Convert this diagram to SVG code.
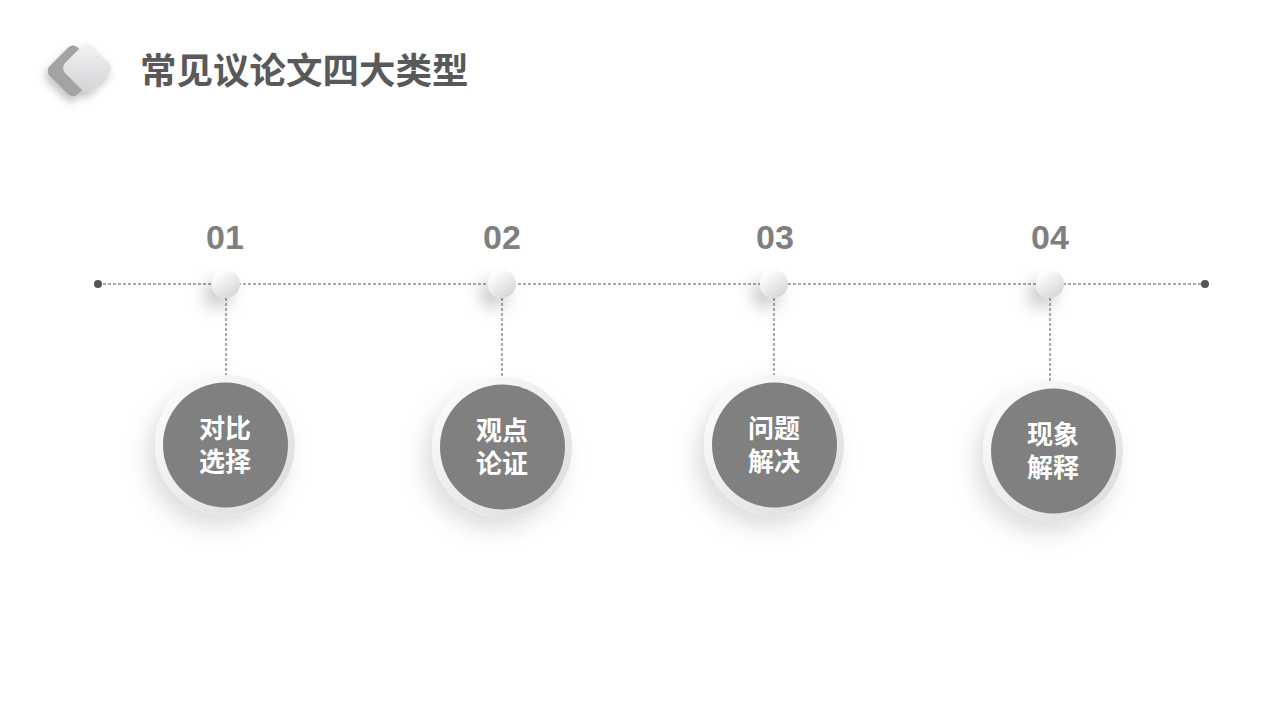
<svg xmlns="http://www.w3.org/2000/svg" width="1280" height="720" viewBox="0 0 1280 720">
<defs>
<linearGradient id="gSmall" x1="0.2" y1="0.1" x2="0.8" y2="0.95">
<stop offset="0" stop-color="#ffffff"/>
<stop offset="1" stop-color="#d6d6d6"/>
</linearGradient>
<linearGradient id="gRing" x1="0.1" y1="0.1" x2="0.9" y2="0.9">
<stop offset="0" stop-color="#fbfbfb"/>
<stop offset="1" stop-color="#dedede"/>
</linearGradient>
<linearGradient id="gFront" x1="0" y1="0" x2="1" y2="1">
<stop offset="0" stop-color="#f4f4f6"/>
<stop offset="1" stop-color="#d2d2d6"/>
</linearGradient>
<filter id="shSmall" x="-150%" y="-150%" width="400%" height="400%">
<feDropShadow dx="-8" dy="10" stdDeviation="8" flood-color="#000" flood-opacity="0.2"/>
</filter>
<filter id="shBig" x="-50%" y="-50%" width="200%" height="200%">
<feDropShadow dx="-8" dy="12" stdDeviation="11" flood-color="#000" flood-opacity="0.13"/>
</filter>
<filter id="shIcon" x="-50%" y="-50%" width="200%" height="200%">
<feDropShadow dx="-2" dy="5" stdDeviation="4" flood-color="#000" flood-opacity="0.25"/>
</filter>
</defs>
<style>
.num{font-family:"Liberation Sans",Arial,sans-serif;font-weight:bold;font-size:34px;fill:#7f7f7f;text-anchor:middle}
.lbl{font-family:"Noto Sans CJK SC","Noto Sans",sans-serif;font-weight:bold;font-size:26px;fill:#ffffff;text-anchor:middle}
.title{font-family:"Noto Sans CJK SC","Noto Sans",sans-serif;font-weight:bold;font-size:36.5px;fill:#595959}
.dash{stroke:#555;stroke-width:1;stroke-dasharray:3 2;fill:none}
.ring{fill:url(#gRing);filter:url(#shBig)}
.disc{fill:#808080}
.knob{fill:url(#gSmall);filter:url(#shSmall)}
</style>
<rect width="1280" height="720" fill="#ffffff"/>
<g id="title-icon" filter="url(#shIcon)">
<rect x="-20" y="-20" width="40" height="40" rx="7" fill="#a3a3a3" transform="translate(73 71) rotate(45)"/>
<rect x="-19" y="-19" width="38" height="38" rx="7" fill="url(#gFront)" transform="translate(87 68) rotate(45)"/>
</g>
<text id="title" class="title" x="140" y="84">常见议论文四大类型</text>
<g id="connectors">
<line class="dash" x1="98" y1="284" x2="1205" y2="284"/>
<circle cx="98" cy="284" r="4" fill="#555"/>
<circle cx="1205" cy="284" r="4" fill="#555"/>
<line class="dash" x1="226" y1="298" x2="226" y2="375"/>
<line class="dash" x1="502" y1="298" x2="502" y2="377"/>
<line class="dash" x1="774" y1="298" x2="774" y2="375"/>
<line class="dash" x1="1050" y1="298" x2="1050" y2="381"/>
</g>
<g id="node1">
<text class="num" x="225" y="249">01</text>
<circle class="knob" cx="226" cy="284" r="14"/>
<circle class="ring" cx="225" cy="445" r="70"/>
<circle class="disc" cx="225.5" cy="445" r="62.5"/>
<text class="lbl" x="225" y="438"><tspan x="225">对比</tspan><tspan x="225" dy="33">选择</tspan></text>
</g>
<g id="node2">
<text class="num" x="502" y="249">02</text>
<circle class="knob" cx="502" cy="284" r="14"/>
<circle class="ring" cx="502" cy="447" r="70"/>
<circle class="disc" cx="502.5" cy="447" r="62.5"/>
<text class="lbl" x="502" y="440"><tspan x="502">观点</tspan><tspan x="502" dy="33">论证</tspan></text>
</g>
<g id="node3">
<text class="num" x="775" y="249">03</text>
<circle class="knob" cx="774" cy="284" r="14"/>
<circle class="ring" cx="774" cy="445" r="70"/>
<circle class="disc" cx="774.5" cy="445" r="62.5"/>
<text class="lbl" x="774" y="438"><tspan x="774">问题</tspan><tspan x="774" dy="33">解决</tspan></text>
</g>
<g id="node4">
<text class="num" x="1050" y="249">04</text>
<circle class="knob" cx="1050" cy="284" r="14"/>
<circle class="ring" cx="1053" cy="451" r="70"/>
<circle class="disc" cx="1053.5" cy="451" r="62.5"/>
<text class="lbl" x="1053" y="444"><tspan x="1053">现象</tspan><tspan x="1053" dy="33">解释</tspan></text>
</g>
</svg>
